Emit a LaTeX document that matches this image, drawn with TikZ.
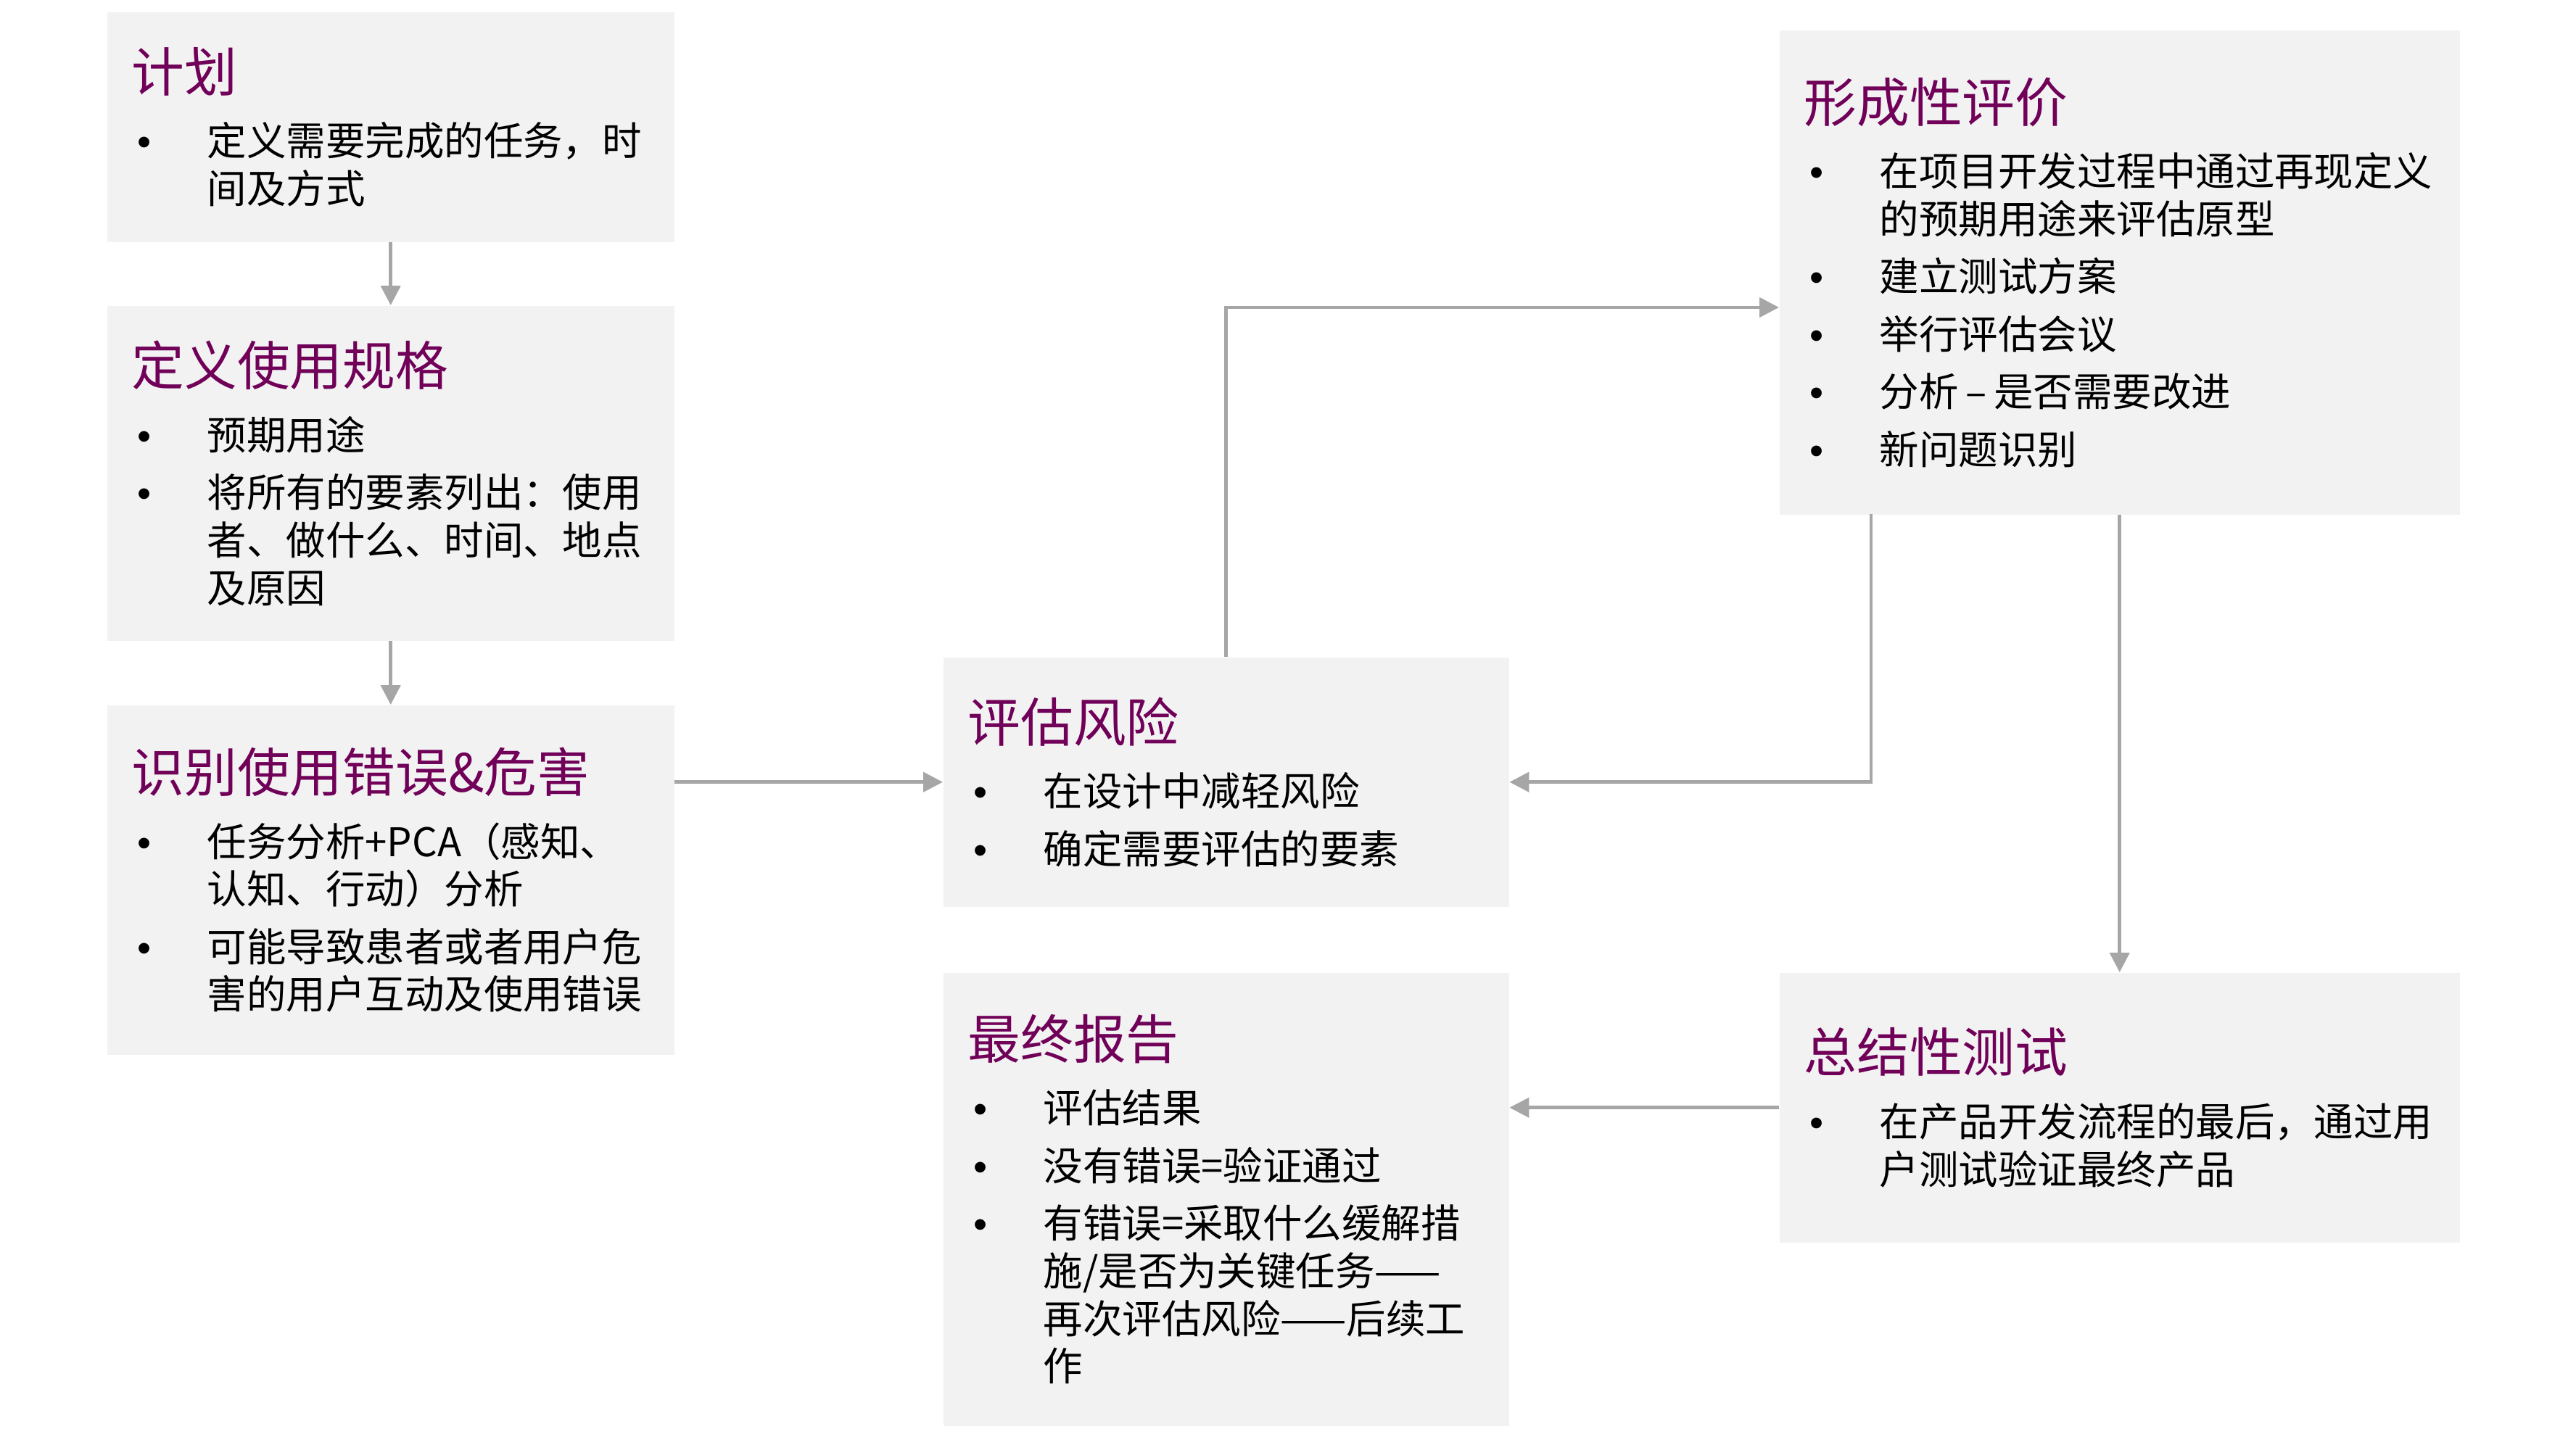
\documentclass[tikz,border=0pt]{standalone}
\usepackage{fontspec}
\setmainfont{Noto Sans CJK SC}
\newfontfamily\bulletfont{Liberation Sans}
\usetikzlibrary{arrows.meta,calc}
\definecolor{boxfill}{HTML}{F2F2F2}
\definecolor{linegray}{HTML}{A6A6A6}
\definecolor{titlepurple}{RGB}{112,0,88}
\newdimen\lastdp
\newcommand\boxtitle[1]{{\color{titlepurple}\fontsize{20.7}{24}\selectfont #1\par}\vspace{2.6pt}}
\newcommand\bitem[1]{\par\vspace{3.9pt}\noindent\makebox[1.04cm][l]{\hspace{0.08cm}{\bulletfont •}}\parbox[t]{\dimexpr\linewidth-1.04cm\relax}{\raggedright #1\par\global\lastdp=\prevdepth}\par\prevdepth=\lastdp}
\tikzset{
  box/.style={fill=boxfill, draw=none, anchor=north west, inner xsep=0.34cm, inner ysep=0pt,
    align=left, font=\fontsize{15.5}{18.7}\selectfont},
  conn/.style={draw=linegray, line width=1.3pt, -{Triangle[length=0.27cm,width=0.27cm]}}
}
\begin{document}
\begin{tikzpicture}
\useasboundingbox[fill=white] (0,0) rectangle (35.52,-19.99);
\node[box, minimum width=7.82cm, minimum height=3.17cm, text width=7.14cm] (b1) at (1.47,-0.16)
 {\boxtitle{计划}\bitem{定义需要完成的任务，时\\间及方式}};
\node[box, minimum width=7.82cm, minimum height=4.62cm, text width=7.14cm] (b2) at (1.47,-4.21)
 {\boxtitle{定义使用规格}\bitem{预期用途}\bitem{将所有的要素列出：使用\\者、做什么、时间、地点\\及原因}};
\node[box, minimum width=7.82cm, minimum height=4.82cm, text width=7.14cm] (b3) at (1.47,-9.72)
 {\boxtitle{识别使用错误\&危害}\bitem{任务分析+PCA（感知、\\认知、行动）分析}\bitem{可能导致患者或者用户危\\害的用户互动及使用错误}};
\node[box, minimum width=7.80cm, minimum height=3.44cm, text width=7.12cm] (b4) at (13.00,-9.06)
 {\boxtitle{评估风险}\bitem{在设计中减轻风险}\bitem{确定需要评估的要素}};
\node[box, minimum width=7.80cm, minimum height=6.25cm, text width=7.12cm] (b5) at (13.00,-13.41)
 {\boxtitle{最终报告}\bitem{评估结果}\bitem{没有错误=验证通过}\bitem{有错误=采取什么缓解措\\施/是否为关键任务——\\再次评估风险——后续工\\作}};
\node[box, minimum width=9.38cm, minimum height=6.68cm, text width=8.70cm] (b6) at (24.53,-0.41)
 {\boxtitle{形成性评价}\bitem{在项目开发过程中通过再现定义\\的预期用途来评估原型}\bitem{建立测试方案}\bitem{举行评估会议}\bitem{分析\hspace{0.18em}–\hspace{0.18em}是否需要改进}\bitem{新问题识别}};
\node[box, minimum width=9.38cm, minimum height=3.72cm, text width=8.70cm] (b7) at (24.53,-13.41)
 {\boxtitle{总结性测试}\bitem{在产品开发流程的最后，通过用\\户测试验证最终产品}};
\coordinate (c1) at (24.53,-4.24);
\coordinate (c2) at (25.80,-7.09);
\draw[conn] (b1.south) -- (b2.north);
\draw[conn] (b2.south) -- (b3.north);
\draw[conn] (b3.east |- b4.west) -- (b4.west);
\draw[conn] (b4.north) |- (c1);
\draw[conn] (c2) |- (b4.east);
\draw[conn] (b6.south) -- (b7.north);
\draw[conn] (b7.west) -- (b5.east |- b7.west);
\end{tikzpicture}
\end{document}
